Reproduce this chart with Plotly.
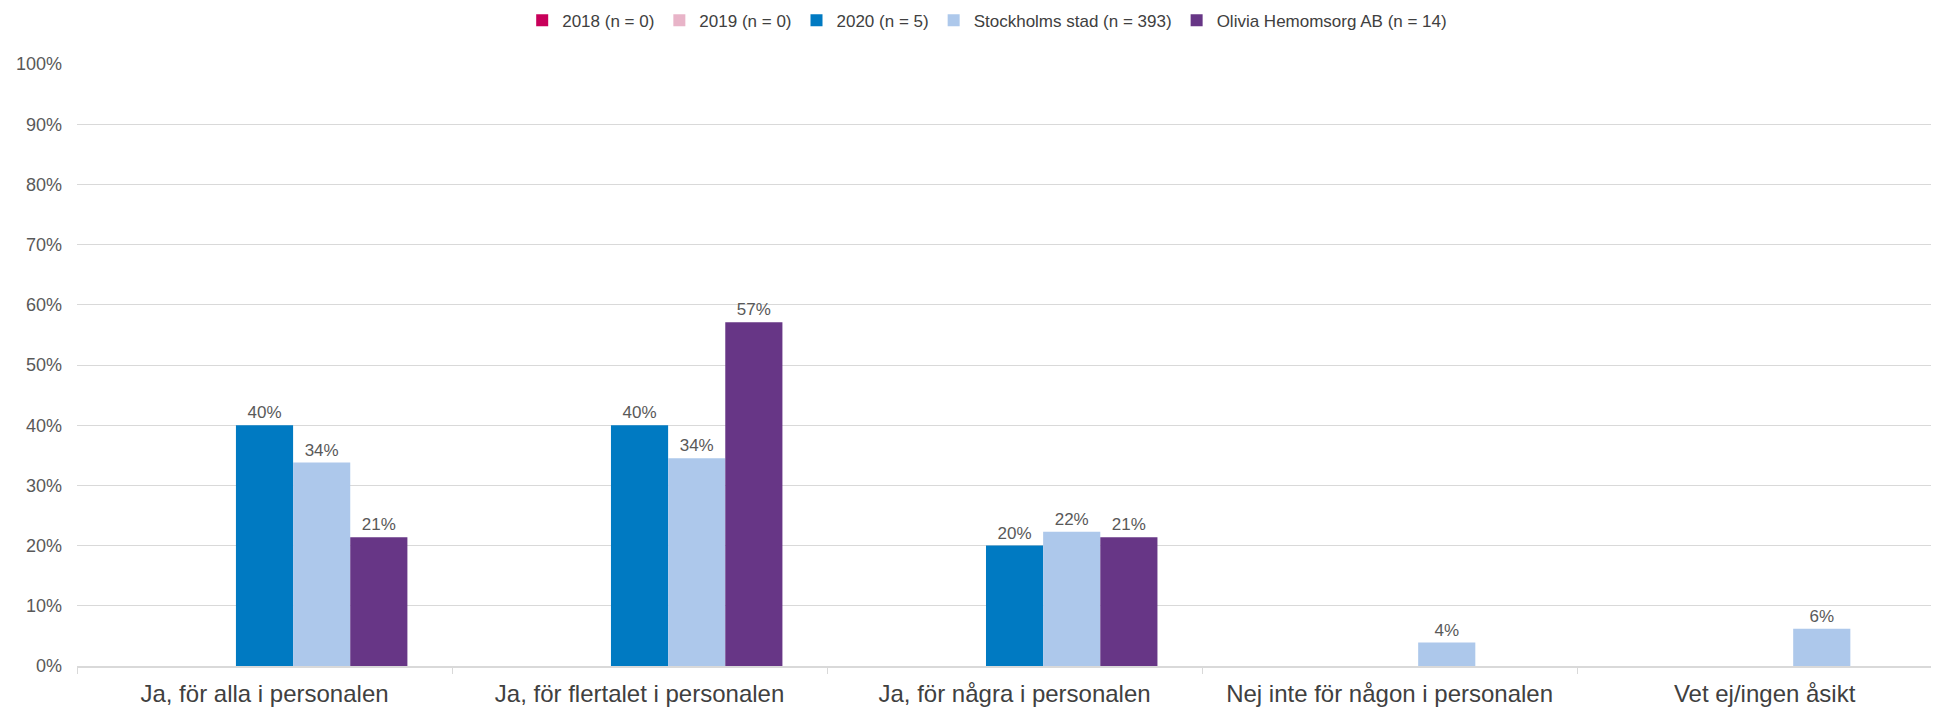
import plotly.graph_objects as go

categories = ["Ja, för alla i personalen", "Ja, för flertalet i personalen",
              "Ja, för några i personalen", "Nej inte för någon i personalen",
              "Vet ej/ingen åsikt"]
series_names = ["2018 (n = 0)", "2019 (n = 0)", "2020 (n = 5)",
                "Stockholms stad (n = 393)", "Olivia Hemomsorg AB (n = 14)"]
v2018 = [0, 0, 0, 0, 0]
v2019 = [0, 0, 0, 0, 0]
v2020 = [40, 40, 20, 0, 0]
vstockholm = [33.8, 34.5, 22.3, 3.9, 6.2]
volivia = [21.4, 57.1, 21.4, 0, 0]
colors = ["#C8005A", "#E8B4C8", "#007AC2", "#ADC8EB", "#673686"]
yticks = list(range(0, 101, 10))

fig = go.Figure()
for name, vals, col in zip(series_names, [v2018, v2019, v2020, vstockholm, volivia], colors):
    fig.add_trace(go.Bar(
        name=name, x=categories, y=vals,
        marker=dict(color=col, line=dict(width=0)),
        text=[f"{v:.0f}%" if v > 0 else "" for v in vals],
        texttemplate="%{text}", textposition="outside",
        textfont=dict(family="Liberation Sans, Arial", size=17, color="#595959"),
        cliponaxis=False,
    ))

# page body has an 8px margin; compensate in the figure margins
fig.update_layout(
    width=1939, height=707,
    margin=dict(l=65, r=8, t=56, b=45),
    paper_bgcolor="white", plot_bgcolor="white",
    barmode="group", bargap=0.238, bargroupgap=0,
    font=dict(family="Liberation Sans, Arial", color="#595959"),
    legend=dict(orientation="h", x=0.505, xanchor="center", xref="container",
                y=0.982, yanchor="middle", yref="container",
                font=dict(size=17, color="#404040"), itemclick=False),
    showlegend=True,
)
fig.update_xaxes(range=[-0.5, 4.465], showline=True, linecolor="#D9D9D9", linewidth=1.5,
                 ticks="outside", tickson="boundaries", ticklen=6, tickcolor="#D9D9D9",
                 tickfont=dict(size=24, color="#404040"), showgrid=False,
                 ticklabelstandoff=5)
fig.update_yaxes(range=[0, 100], tickvals=yticks, ticktext=[f"{t}%" for t in yticks],
                 gridcolor="#D9D9D9", gridwidth=1, zeroline=False, showline=False,
                 tickfont=dict(size=18, color="#595959"), ticklabelstandoff=14)

fig.write_html("out.html")
